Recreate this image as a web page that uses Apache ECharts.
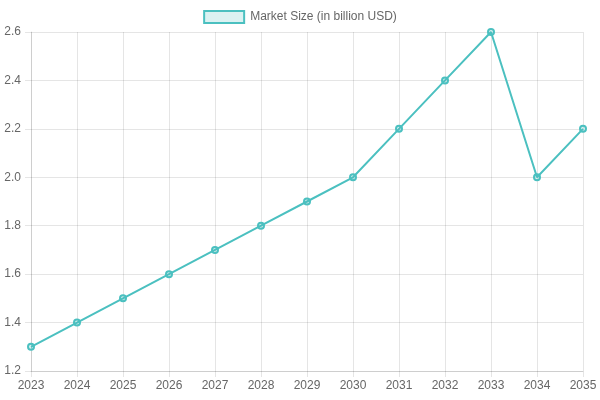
<!DOCTYPE html>
<html>
<head>
<meta charset="utf-8">
<script src="https://cdn.jsdelivr.net/npm/echarts@6/dist/echarts.min.js"></script>
<style>
  html, body { margin: 0; padding: 0; background: #fff; }
  #chart { width: 600px; height: 400px; }
</style>
</head>
<body>
<div id="chart"></div>
<script>
const years = ["2023", "2024", "2025", "2026", "2027", "2028", "2029", "2030", "2031", "2032", "2033", "2034", "2035"];
const marketSize = [1.3, 1.4, 1.5, 1.6, 1.7, 1.8, 1.9, 2.0, 2.2, 2.4, 2.6, 2.0, 2.2];
const seriesName = "Market Size (in billion USD)";

const gridColor = "rgba(0,0,0,0.1)";
const labelColor = "#666";
const fontFamily = "Liberation Sans, Arial, sans-serif";

const chart = echarts.init(document.getElementById("chart"));
chart.setOption({
  animation: false,
  textStyle: { fontFamily: fontFamily },
  legend: {
    top: 5,
    left: "center",
    itemWidth: 40,
    itemHeight: 12,
    itemGap: 10,
    icon: "rect",
    textStyle: { color: labelColor, fontSize: 12, fontFamily: fontFamily, padding: [0, 0, 0, 1] },
    itemStyle: {
      color: "rgba(75,192,192,0.2)",
      borderColor: "#4bc0c0",
      borderWidth: 2
    },
    lineStyle: { opacity: 0 },
    data: [seriesName]
  },
  grid: { left: 31, right: 17, top: 32, bottom: 29, containLabel: false },
  xAxis: {
    type: "category",
    data: years,
    boundaryGap: false,
    axisLine: { show: true, lineStyle: { color: gridColor } },
    axisTick: { show: true, length: 6, lineStyle: { color: gridColor } },
    axisLabel: { color: labelColor, fontSize: 12, margin: 9 },
    splitLine: { show: true, lineStyle: { color: gridColor } }
  },
  yAxis: {
    type: "value",
    min: 1.2,
    max: 2.6,
    interval: 0.2,
    axisLine: { show: true, lineStyle: { color: gridColor } },
    axisTick: { show: true, length: 6, lineStyle: { color: gridColor } },
    axisLabel: {
      color: labelColor,
      fontSize: 12,
      margin: 10,
      formatter: v => v.toFixed(1)
    },
    splitLine: { show: true, lineStyle: { color: gridColor } }
  },
  series: [
    {
      name: seriesName,
      type: "line",
      data: marketSize,
      symbol: "circle",
      symbolSize: 6,
      showSymbol: true,
      lineStyle: { color: "#4bc0c0", width: 2 },
      itemStyle: {
        color: "rgba(75,192,192,0.2)",
        borderColor: "#4bc0c0",
        borderWidth: 2
      }
    }
  ]
});
</script>
</body>
</html>
